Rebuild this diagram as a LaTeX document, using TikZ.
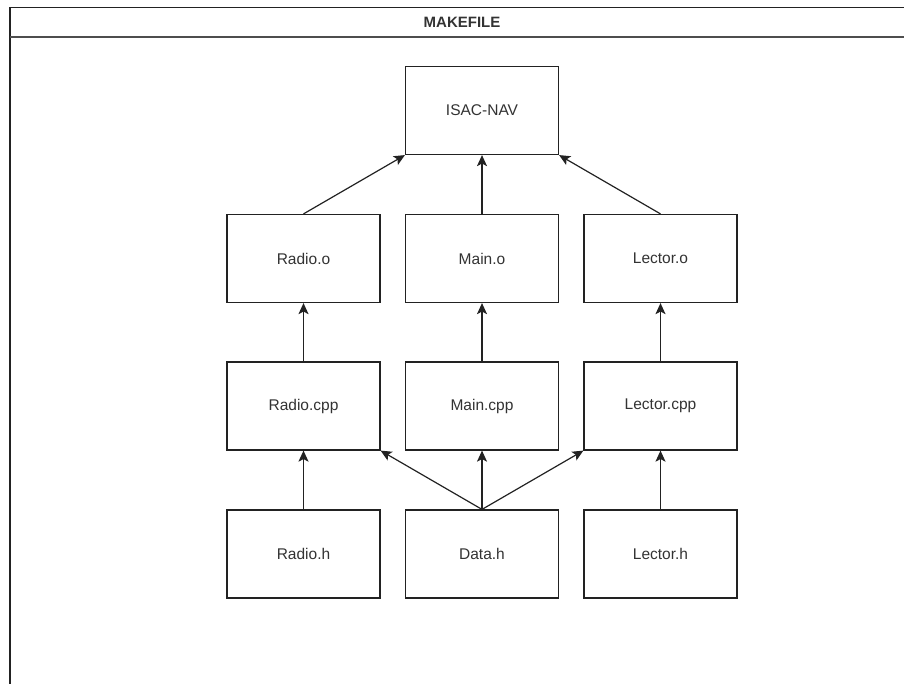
\documentclass[tikz,border=0pt]{standalone}
\usepackage{fontspec}
\setmainfont{Liberation Sans}
\usetikzlibrary{arrows.meta}
\definecolor{ink}{HTML}{222222}
\definecolor{txt}{HTML}{333333}
\tikzset{
  unitbox/.style={draw=ink, line width=1.2pt, fill=white, rectangle,
    minimum width=153pt, minimum height=88pt, inner sep=0pt,
    font=\fontsize{15.5}{17}\selectfont, text=txt},
  dep/.style={draw=ink, line width=1.2pt,
    -{Stealth[length=11pt,width=10pt,inset=2.5pt]}},
  frameline/.style={draw=ink, line width=1.6pt}
}
\begin{document}
\begin{tikzpicture}[x=1pt,y=-1pt]
  \useasboundingbox (0,0) rectangle (904,684);
  % outer container with its title bar
  \draw[frameline] (10,684) -- (10,7.5) -- (904,7.5);
  \draw[frameline, draw=ink!80] (10,37) -- (904,37);
  \node[font=\bfseries\fontsize{15}{17}\selectfont, text=txt] (title) at (462,22.5) {MAKEFILE};

  % build targets
  \node[unitbox] (isac) at (482,110.5) {ISAC-NAV};

  \node[unitbox] (radioo)  at (303.5,258.5) {Radio.o};
  \node[unitbox] (maino)   at (482,258.5)   {Main.o};
  \node[unitbox] (lectoro) at (660.5,258.5) {Lector.o};

  \node[unitbox] (radiocpp)  at (303.5,406) {Radio.cpp};
  \node[unitbox] (maincpp)   at (482,406)   {Main.cpp};
  \node[unitbox] (lectorcpp) at (660.5,406) {Lector.cpp};

  \node[unitbox] (radioh)  at (303.5,554) {Radio.h};
  \node[unitbox] (datah)   at (482,554)   {Data.h};
  \node[unitbox] (lectorh) at (660.5,554) {Lector.h};

  % dependencies
  \draw[dep] (radioo.north)  -- (isac.south west);
  \draw[dep] (maino.north)   -- (isac.south);
  \draw[dep] (lectoro.north) -- (isac.south east);

  \draw[dep] (radiocpp.north)  -- (radioo.south);
  \draw[dep] (maincpp.north)   -- (maino.south);
  \draw[dep] (lectorcpp.north) -- (lectoro.south);

  \draw[dep] (radioh.north)  -- (radiocpp.south);
  \draw[dep] (lectorh.north) -- (lectorcpp.south);
  \draw[dep] (datah.north) -- (radiocpp.south east);
  \draw[dep] (datah.north) -- (maincpp.south);
  \draw[dep] (datah.north) -- (lectorcpp.south west);
\end{tikzpicture}
\end{document}
